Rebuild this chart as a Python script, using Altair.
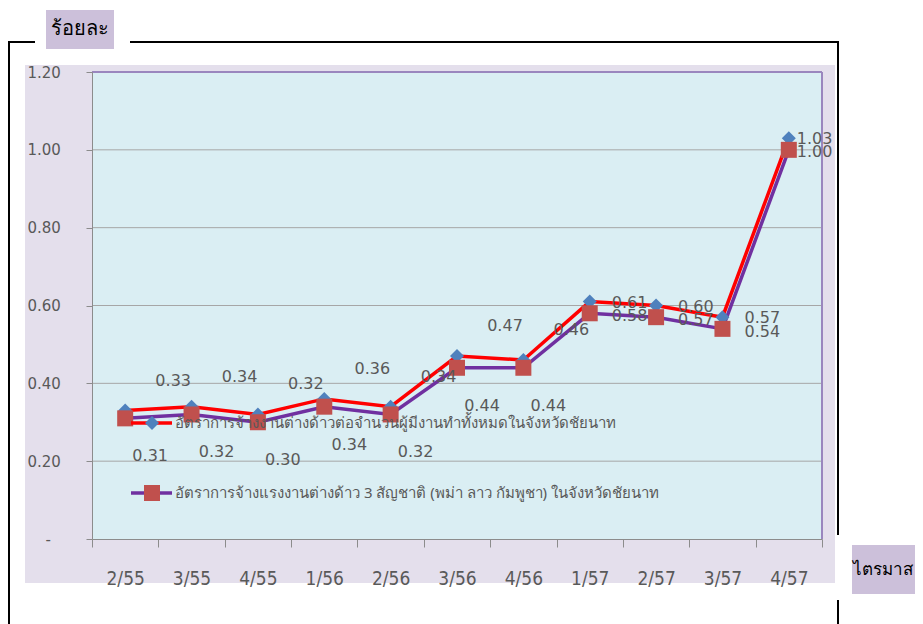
import altair as alt
import pandas as pd

quarters = ["2/55", "3/55", "4/55", "1/56", "2/56", "3/56", "4/56", "1/57", "2/57", "3/57", "4/57"]
rate_total = [0.33, 0.34, 0.32, 0.36, 0.34, 0.47, 0.46, 0.61, 0.60, 0.57, 1.03]
rate_3nat = [0.31, 0.32, 0.30, 0.34, 0.32, 0.44, 0.44, 0.58, 0.57, 0.54, 1.00]
y_ticks = [0, 0.2, 0.4, 0.6, 0.8, 1.0, 1.2]
grid_values = [0.2, 0.4, 0.6, 0.8, 1.0]
series_names = [
    "อัตราการจ้างงานต่างด้าวต่อจำนวนผู้มีงานทำทั้งหมดในจังหวัดชัยนาท",
    "อัตราการจ้างแรงงานต่างด้าว 3 สัญชาติ (พม่า ลาว กัมพูชา) ในจังหวัดชัยนาท",
]
y_title = "ร้อยละ"
x_title = "ไตรมาส"

df = pd.DataFrame({"q": quarters, "a": rate_total, "b": rate_3nat,
                   "i": list(range(len(quarters)))})

W, H = 730, 467
LABEL_COLOR = "#595959"
AXIS_GRAY = "#8C8C8C"
THAI_FONT = "'Noto Sans', 'DejaVu Sans', sans-serif"
NUM_FONT = "'DejaVu Sans', sans-serif"

yscale = alt.Scale(domain=[0, 1.2], nice=False, zero=True)
xenc = alt.X("q:N", sort=quarters,
             scale=alt.Scale(type="band", paddingInner=0, paddingOuter=0),
             axis=alt.Axis(title=None, grid=False, tickBand="extent", tickSize=8,
                           tickColor=AXIS_GRAY, domainColor=AXIS_GRAY, labelAngle=0,
                           labelPadding=22, labelFont="'Liberation Sans Narrow', 'DejaVu Sans Condensed', sans-serif",
                           labelFontSize=19, labelColor=LABEL_COLOR, zindex=1))
yaxis = alt.Axis(title=None, grid=False, values=y_ticks, tickSize=6, tickColor=AXIS_GRAY,
                 domainColor=AXIS_GRAY, labelAlign="left",
                 labelPadding={"condition": {"test": "datum.value == 0", "value": 41}, "value": 59},
                 labelExpr="datum.value == 0 ? '-' : format(datum.value, '.2f')",
                 labelFont=NUM_FONT, labelFontSize=15, labelColor=LABEL_COLOR, zindex=1)

one = alt.Data(values=[{}])

def rect(x1, x2, y1, y2, color):
    return alt.Chart(one).mark_rect(color=color, opacity=1).encode(
        x=alt.value(x1), x2=alt.value(x2), y=alt.value(y1), y2=alt.value(y2))

def hline(x1, x2, y, color, w):
    return alt.Chart(one).mark_rule(color=color, strokeWidth=w).encode(
        x=alt.value(x1), x2=alt.value(x2), y=alt.value(y))

def vline(x, y1, y2, color, w):
    return alt.Chart(one).mark_rule(color=color, strokeWidth=w).encode(
        x=alt.value(x), y=alt.value(y1), y2=alt.value(y2))

def label(txt, x, y, size, color="black", align="left", font=THAI_FONT, weight="normal"):
    return alt.Chart(one).mark_text(align=align, baseline="middle", fontSize=size,
                                    color=color, font=font, fontWeight=weight).encode(
        x=alt.value(x), y=alt.value(y), text=alt.value(txt))

outer_bg = rect(-67, 743, -7, 511, "#E4DFEC")
plot_bg = rect(0, W, 0, H, "#DAEEF3")

grid = alt.Chart(pd.DataFrame({"g": grid_values})).mark_rule(
    color="#A6A6A6", strokeWidth=1).encode(y=alt.Y("g:Q", scale=yscale, axis=yaxis))

top_border = hline(0, W, 0, "#9A86BE", 2)
right_border = vline(W, 0, H, "#9A86BE", 2)

# black frame
frame = [
    vline(-83, -30, 560, "black", 2),
    hline(-84, -57, -30, "black", 2),
    hline(38, 747, -30, "black", 2),
    vline(746, -30, 463, "black", 2),
    vline(746, 528, 560, "black", 2),
]

y_box = rect(-46, 22, -62, -23, "#CCC0DA")
y_lab = label(y_title, -12, -43, 20, align="center")
x_box = rect(760, 835, 473, 522, "#CCC0DA")
x_lab = label(x_title, 761, 498, 17, align="left")

base = alt.Chart(df)
line_b = base.mark_line(color="#7030A0", strokeWidth=3.5).encode(
    x=xenc, y=alt.Y("b:Q", scale=yscale, axis=yaxis))
line_a = base.mark_line(color="#FF0000", strokeWidth=3.5).encode(
    x=xenc, y=alt.Y("a:Q", scale=yscale))
diamonds = base.mark_point(shape="diamond", filled=True, size=196, color="#4F81BD",
                           opacity=1).encode(x=xenc, y=alt.Y("a:Q", scale=yscale))
squares = base.mark_square(size=256, color="#C0504D", opacity=1).encode(
    x=xenc, y=alt.Y("b:Q", scale=yscale))

def data_labels(field, cond, dx, dy, align):
    return base.transform_filter(cond).mark_text(
        dx=dx, dy=dy, align=align, baseline="middle", fontSize=16,
        color=LABEL_COLOR, font=NUM_FONT).encode(
        x=xenc, y=alt.Y(f"{field}:Q", scale=yscale),
        text=alt.Text(f"{field}:Q", format=".2f"))

lab_a1 = data_labels("a", "datum.i < 7", 48, -30, "center")
lab_a2 = data_labels("a", "datum.i >= 7 && datum.i < 10", 22, 1, "left")
lab_a3 = data_labels("a", "datum.i >= 10", 8, 1, "left")
lab_b1 = data_labels("b", "datum.i < 7", 25, 38, "center")
lab_b2 = data_labels("b", "datum.i >= 7 && datum.i < 10", 22, 3, "left")
lab_b3 = data_labels("b", "datum.i >= 10", 8, 2, "left")

# legend
leg1_line = hline(39, 80, 351, "#FF0000", 3.5)
leg1_pt = alt.Chart(one).mark_point(shape="diamond", filled=True, size=196,
                                    color="#4F81BD", opacity=1).encode(
    x=alt.value(60), y=alt.value(351))
leg1_txt = label(series_names[0], 83, 351, 15, color=LABEL_COLOR)
leg2_line = hline(39, 80, 421, "#7030A0", 3.5)
leg2_pt = alt.Chart(one).mark_square(size=256, color="#C0504D", opacity=1).encode(
    x=alt.value(60), y=alt.value(421))
leg2_txt = label(series_names[1], 83, 421, 15, color=LABEL_COLOR)

chart = alt.layer(
    outer_bg, plot_bg, grid, top_border, right_border, *frame,
    y_box, y_lab, x_box, x_lab,
    line_b, line_a, diamonds, squares,
    lab_a1, lab_a2, lab_a3, lab_b1, lab_b2, lab_b3,
    leg1_line, leg1_pt, leg1_txt, leg2_line, leg2_pt, leg2_txt,
).properties(
    width=W, height=H,
    autosize=alt.AutoSizeParams(type="none"),
    padding={"left": 84, "top": 64, "right": 93, "bottom": 85},
    background="white",
).configure_view(stroke=None)

chart.save("out.html", embed_options={"renderer": "svg", "actions": False})
